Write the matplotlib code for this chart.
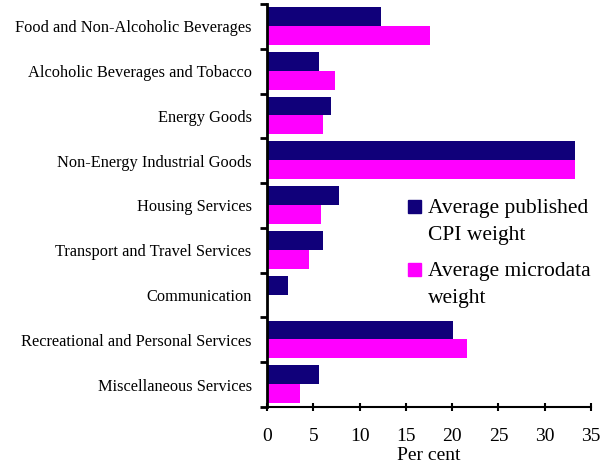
import matplotlib
matplotlib.use("Agg")
import matplotlib.pyplot as plt
from matplotlib.patches import Rectangle
import numpy as np

plt.rcParams['font.family'] = ['Liberation Serif', 'DejaVu Serif']

# data
categories = [
    "Food and Non-Alcoholic Beverages",
    "Alcoholic Beverages and Tobacco",
    "Energy Goods",
    "Non-Energy Industrial Goods",
    "Housing Services",
    "Transport and Travel Services",
    "Communication",
    "Recreational and Personal Services",
    "Miscellaneous Services",
]
published = [12.3, 5.6, 6.9, 33.3, 7.8, 6.0, 2.3, 20.1, 5.6]
microdata = [17.6, 7.3, 6.0, 33.3, 5.8, 4.5, 0.0, 21.6, 3.6]
xticks = [0, 5, 10, 15, 20, 25, 30, 35]

navy = '#10007A'
magenta = '#FF00FF'

fig = plt.figure(figsize=(6.01, 4.63), dpi=100)
ax = fig.add_axes([0.4443, 0.121, 0.539, 0.8704])

y = np.arange(len(categories))
h = 0.42
ax.barh(y - 0.22, published, height=h, color=navy)
ax.barh(y + 0.20, microdata, height=h, color=magenta)

ax.set_xlim(0, 35)
ax.set_ylim(len(categories) - 0.5, -0.5)
ax.set_xticks(xticks)
ax.set_xticklabels([str(t) for t in xticks], fontsize=14)
ax.tick_params(axis='x', direction='inout', length=6, width=1.5, pad=12)

ax.set_yticks(y)
ax.set_yticklabels(categories, fontsize=11.8)
ax.set_yticks(np.arange(-0.5, len(categories), 1.0), minor=True)
ax.tick_params(axis='y', which='major', length=0, pad=11)
ax.tick_params(axis='y', which='minor', direction='out', length=5, width=2)

for s in ['top', 'right']:
    ax.spines[s].set_visible(False)
ax.spines['left'].set_linewidth(2)
ax.spines['bottom'].set_linewidth(1.5)

ax.set_xlabel("Per cent", fontsize=14, va='center')
ax.xaxis.set_label_coords(0.5, (1 - 455 / 463 - 0.121) / 0.8704)

# legend drawn by hand: square aligned with first text line
W, H = 601, 463
leg = [(navy, ["Average published", "CPI weight"], 213),
       (magenta, ["Average microdata", "weight"], 276)]
for col, lines, base in leg:
    fig.patches.append(Rectangle((408 / W, 1 - base / H), 13 / W, 13 / H,
                                 color=col, transform=fig.transFigure, figure=fig))
    for k, line in enumerate(lines):
        fig.text(428 / W, 1 - (base + 27 * k) / H, line, fontsize=15.5,
                 va='baseline', ha='left')

fig.savefig("out.png", dpi=100)
